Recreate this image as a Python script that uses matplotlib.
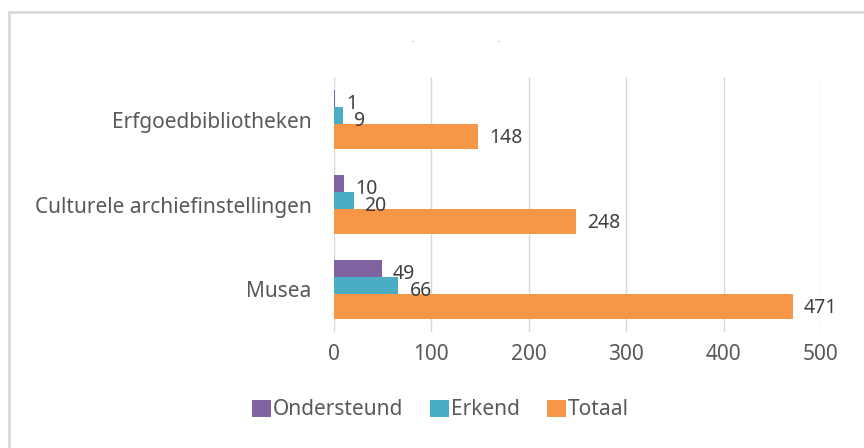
import matplotlib.pyplot as plt
from matplotlib.patches import Rectangle
import numpy as np

categories = ['Musea', 'Culturele archiefinstellingen', 'Erfgoedbibliotheken']
ondersteund = [49, 10, 1]
erkend = [66, 20, 9]
totaal = [471, 248, 148]
series_names = ['Ondersteund', 'Erkend', 'Totaal']
colors = ['#8064A2', '#4BACC6', '#F79646']
xticks = [0, 100, 200, 300, 400, 500]

plt.rcParams['font.family'] = ['Noto Sans', 'DejaVu Sans']

fig = plt.figure(figsize=(8.64, 4.48), dpi=100)
ax = fig.add_axes([0.3866, 0.259, 0.5637, 0.569])

y = np.arange(len(categories))
offsets = [0.2, 0.0, -0.2]
h = 0.285
for vals, off, col, name in zip([ondersteund, erkend, totaal], offsets, colors, series_names):
    bars = ax.barh(y + off, vals, height=h, color=col, label=name, zorder=3)
    for b, v in zip(bars, vals):
        ax.annotate(str(v), (b.get_width(), b.get_y() + b.get_height() / 2),
                    xytext=(8, -1), textcoords='offset points', va='center', ha='left',
                    fontsize=14, color='#404040', zorder=4)

ax.set_xlim(0, 500)
ax.set_ylim(-0.5, 2.5)
ax.set_xticks(xticks)
ax.set_yticks(y)
ax.set_yticklabels(categories)
ax.tick_params(axis='both', length=0, labelsize=15, labelcolor='#595959')
ax.tick_params(axis='x', pad=9)
ax.tick_params(axis='y', pad=16)
ax.grid(axis='x', color='#D9D9D9', linewidth=1, zorder=0)
for s in ax.spines.values():
    s.set_visible(False)

fig.legend(loc='center', bbox_to_anchor=(0.51, 0.085), ncol=3, frameon=False,
           fontsize=15, labelcolor='#595959', handlelength=0.9, handleheight=0.9,
           handletextpad=0.1, columnspacing=1.3)

# faint cut-off title marks
fig.text(412 / 864, 1 - 42 / 448, '-', color='#C8C8C8', fontsize=8, ha='center', va='center')
fig.text(498 / 864, 1 - 42 / 448, '-', color='#C8C8C8', fontsize=8, ha='center', va='center')

# outer frame (only top and left visible)
fig.add_artist(Rectangle((9 / 864, -0.5), 2, 0.973 + 0.5, transform=fig.transFigure,
                         fill=False, edgecolor='#D9D9D9', linewidth=2, clip_on=False))

fig.savefig('out.png', dpi=100)
